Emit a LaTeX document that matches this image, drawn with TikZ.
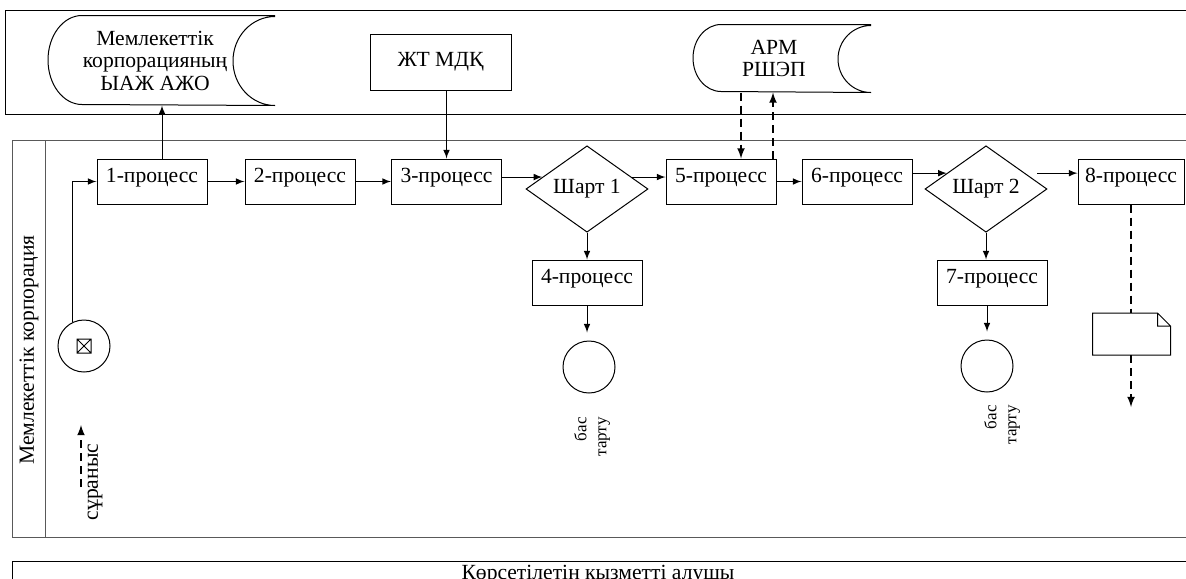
\documentclass[tikz,border=0pt]{standalone}
\usepackage{fontspec}
\setmainfont{Liberation Serif}
\usetikzlibrary{arrows}
\usetikzlibrary{shapes.geometric}

\begin{document}
\begin{tikzpicture}[x=0.5pt,y=-0.5pt,line width=0.5pt,
  font=\fontsize{10.8}{11.25}\selectfont,
  proc/.style={draw,minimum width=55pt,minimum height=22.5pt,inner sep=0pt,text depth=6pt},
  cond/.style={draw,diamond,minimum width=61pt,minimum height=43pt,inner sep=0pt},
  ev/.style={draw,circle,minimum size=26pt,inner sep=0pt},
  flow/.style={line width=0.75pt,dash pattern=on 4pt off 2.5pt}]
  \useasboundingbox (0,0) rectangle (1186,578);
  % pools and lane
  \draw (1195,10) -- (5,10) -- (5,114) -- (1195,114);
  \draw[black!65] (1195,140) -- (12,140) -- (12,537) -- (1195,537) (45,140) -- (45,537);
  \draw (1195,561) -- (12,561) -- (12,590);
  \node[rotate=90] (lane) at (29,350) {Мемлекеттік корпорация};
  \node[anchor=north] (cust) at (598,558) {Көрсетілетін қызметті алушы};

  % data stores and outer system
  \node[minimum height=44.5pt,align=center] (db) at (155,60.5)
    {Мемлекеттік\\корпорацияның\\ЫАЖ АЖО};
  \draw ([xshift=60pt]db.north) -- ([xshift=-36.5pt]db.north)
    arc[start angle=90,end angle=270,x radius=17pt,y radius=22.25pt]
    -- ([xshift=60pt]db.south) arc[start angle=270,end angle=90,x radius=21pt,y radius=22.25pt];
  \node[minimum height=33.5pt,align=center] (arm) at (774,58.5) {АРМ\\РШЭП};
  \draw ([xshift=48.5pt]arm.north) -- ([xshift=-26.5pt]arm.north)
    arc[start angle=90,end angle=270,x radius=14pt,y radius=16.75pt]
    -- ([xshift=48.5pt]arm.south) arc[start angle=270,end angle=90,x radius=16.5pt,y radius=16.75pt];
  \node[draw,minimum width=70.5pt,minimum height=28pt] (jt) at (440.5,62) {ЖТ МДҚ};

  % processes
  \node[proc] (p1) at (152,181.5) {1-процесс};
  \node[proc] (p2) at (300,181.5) {2-процесс};
  \node[proc] (p3) at (446.5,181.5) {3-процесс};
  \node[cond] (s1) at (587,189) {Шарт 1};
  \node[proc] (p4) at (587,282.5) {4-процесс};
  \node[proc] (p5) at (721,181.5) {5-процесс};
  \node[proc] (p6) at (857,181.5) {6-процесс};
  \node[cond] (s2) at (986,189) {Шарт 2};
  \node[proc] (p7) at (992,282.5) {7-процесс};
  \node[proc,minimum width=53pt] (p8) at (1131,181.5) {8-процесс};

  % events
  \node[ev] (st) at (84,346) {};
  \draw ([shift={(-7,-7)}]st.center) rectangle ([shift={(7,7)}]st.center)
    ([shift={(-7,-7)}]st.center) -- ([shift={(7,7)}]st.center)
    ([shift={(7,-7)}]st.center) -- ([shift={(-7,7)}]st.center);
  \node[ev] (c1) at (589,367) {};
  \node[ev] (c2) at (987,366) {};
  \node[rotate=90,align=right,font=\fontsize{8.5}{10}\selectfont] (r1) at (592,437) {бас\\тарту};
  \node[rotate=90,align=right,font=\fontsize{8.5}{10}\selectfont] (r2) at (1002,425) {бас\\тарту};

  % document
  \node[minimum width=38.5pt,minimum height=20.5pt,inner sep=0pt] (doc) at (1131.5,334) {};
  \draw (doc.north west) -- ([xshift=-6.5pt]doc.north east) -- ([yshift=-6.5pt]doc.north east)
    -- (doc.south east) -- (doc.south west) -- cycle
    ([xshift=-6.5pt]doc.north east) |- ([yshift=-6.5pt]doc.north east);

  % sequence flow
  \path[-latex]
    (p1) edge (p2)
    (p2) edge (p3)
    (p5) edge (p6)
    (s1.south) edge (p4.north);
  \draw[-latex] (st.115) |- (p1.west);
  \draw[-latex] (s1.165 -| p3.east) -- (s1.165);
  \draw[-latex] (s1.15) -- (s1.15 -| p5.west);
  \draw[-latex] (s2.158 -| p6.east) -- (s2.158);
  \draw[-latex,shorten <=6pt] (s2.22) -- (s2.22 -| p8.west);
  \draw[-latex] (s2.south) -- (s2.south |- p7.north);
  \draw[-latex,shorten >=4pt] (p4.south) -- (p4.south |- c1.north);
  \draw[-latex,shorten >=4pt] (p7.south -| c2.north) -- (c2.north);
  \coordinate (dbin) at ([xshift=3.5pt]db.south);
  \draw[-latex] (dbin |- p1.north) -- (dbin);
  \draw[-latex] (jt.south -| p3.north) -- (p3.north);

  % message flow
  \coordinate (d1) at ([xshift=10pt]p5.north);
  \coordinate (d2) at ([xshift=26pt]p5.north);
  \draw[flow,-latex] (d1 |- arm.south) -- (d1);
  \draw[flow,-latex] (d2) -- (d2 |- arm.south);
  \draw[flow] (p8.south) -- (p8.south |- doc.north);
  \coordinate (docend) at (1131,407);
  \draw[flow,-latex] (doc.south -| docend) -- (docend);
  \coordinate (rq0) at (81,487);
  \coordinate (rq1) at (81,425);
  \draw[flow,-latex] (rq0) -- (rq1);
  \node[rotate=90] (rq) at (95,482) {сұраныс};
\end{tikzpicture}
\end{document}
